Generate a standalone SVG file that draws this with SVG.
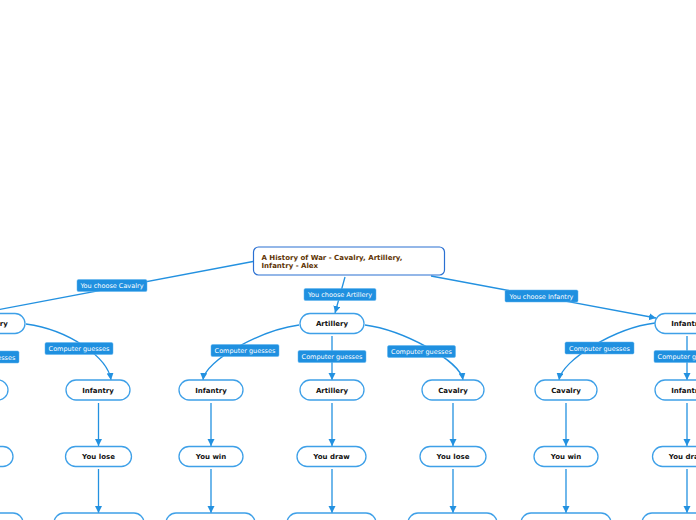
<svg xmlns="http://www.w3.org/2000/svg" width="696" height="520" viewBox="0 0 696 520">
<defs>
<marker id="ah" markerUnits="userSpaceOnUse" markerWidth="8" markerHeight="8" refX="7" refY="3.5" orient="auto">
<path d="M0,0 L7,3.5 L0,7 z" fill="#2391e0"/>
</marker>
<style>
.n rect{fill:#fff;stroke:#3ea0e8;stroke-width:1.3}
.n text{font-family:"DejaVu Sans",Verdana,sans-serif;font-size:7px;font-weight:bold;fill:#111;text-anchor:middle}
.root rect{fill:#fff;stroke:#2a70d2;stroke-width:1.2}
.root text{font-family:"DejaVu Sans",Verdana,sans-serif;font-size:7px;font-weight:bold;fill:#5e3404}
.c path,.c line{fill:none;stroke:#2391e0;stroke-width:1.3;marker-end:url(#ah)}
.l rect{fill:#1f90e0;stroke:#5cb2ee;stroke-width:0.5}
.l text{font-family:"DejaVu Sans",Verdana,sans-serif;font-size:6.5px;fill:#fff;text-anchor:middle}
</style>
</defs>
<rect width="696" height="520" fill="#fff"/>
<g id="connectors" class="c">
<line x1="253" y1="261.5" x2="-14" y2="312"/>
<line x1="345" y1="277" x2="335" y2="313"/>
<line x1="431" y1="276" x2="656" y2="318"/>
<path d="M26,324 C70,330 108,358 111,380"/>
<line x1="-15" y1="336" x2="-15" y2="380"/>
<path d="M299,325 C262,330 205,360 203,380"/>
<line x1="332" y1="336" x2="332" y2="380"/>
<path d="M365,325 C402,330 460,360 463,380"/>
<path d="M655,323 C615,328 562,360 559,380"/>
<line x1="687" y1="336" x2="687" y2="380"/>
<line x1="98.5" y1="403" x2="98.5" y2="446"/>
<line x1="211" y1="403" x2="211" y2="446"/>
<line x1="332" y1="403" x2="332" y2="446"/>
<line x1="453" y1="403" x2="453" y2="446"/>
<line x1="566" y1="403" x2="566" y2="446"/>
<line x1="687" y1="403" x2="687" y2="446"/>
<line x1="98.5" y1="469" x2="98.5" y2="513"/>
<line x1="211" y1="469" x2="211" y2="513"/>
<line x1="332" y1="469" x2="332" y2="513"/>
<line x1="453" y1="469" x2="453" y2="513"/>
<line x1="566" y1="469" x2="566" y2="513"/>
<line x1="687" y1="469" x2="687" y2="513"/>
</g>
<g id="labels" class="l">
<g id="lbl-cav"><rect x="77" y="279.5" width="70" height="12" rx="1.5"/><text x="112" y="288">You choose Cavalry</text></g>
<g id="lbl-art"><rect x="304" y="288.5" width="72" height="12" rx="1.5"/><text x="340" y="297">You choose Artillery</text></g>
<g id="lbl-inf"><rect x="505" y="290" width="73" height="12" rx="1.5"/><text x="541.5" y="298.5">You choose Infantry</text></g>
<g id="lbl-c1"><rect x="45" y="342.5" width="68" height="12" rx="1.5"/><text x="79" y="351">Computer guesses</text></g>
<g id="lbl-c0"><rect x="-49" y="351" width="68" height="12" rx="1.5"/><text x="-15" y="359.5">Computer guesses</text></g>
<g id="lbl-a1"><rect x="211" y="344.5" width="68" height="12" rx="1.5"/><text x="245" y="353">Computer guesses</text></g>
<g id="lbl-a2"><rect x="298" y="350.5" width="68" height="12" rx="1.5"/><text x="332" y="359">Computer guesses</text></g>
<g id="lbl-a3"><rect x="387.5" y="345.5" width="68" height="12" rx="1.5"/><text x="421.5" y="354">Computer guesses</text></g>
<g id="lbl-i1"><rect x="565" y="342" width="69" height="12" rx="1.5"/><text x="599.5" y="350.5">Computer guesses</text></g>
<g id="lbl-i2"><rect x="654" y="350.5" width="68" height="12" rx="1.5"/><text x="688" y="359">Computer guesses</text></g>
</g>
<g id="root" class="root"><rect x="253.5" y="247" width="191" height="28" rx="5"/><text x="261.5" y="259.5">A History of War - Cavalry, Artillery,</text><text x="261.5" y="268">Infantry - Alex</text></g>
<g id="n-cav" class="n"><rect x="-39" y="313.5" width="64" height="20" rx="10"/><text x="-7" y="326">Cavalry</text></g>
<g id="n-art" class="n"><rect x="300" y="313.5" width="64" height="20" rx="10"/><text x="332" y="326">Artillery</text></g>
<g id="n-inf" class="n"><rect x="655" y="313.5" width="64" height="20" rx="10"/><text x="687" y="326">Infantry</text></g>
<g id="n-c2" class="n"><rect x="-56" y="380" width="64" height="20" rx="10"/></g>
<g id="n-ci" class="n"><rect x="66" y="380" width="64" height="20" rx="10"/><text x="98" y="392.5">Infantry</text></g>
<g id="n-ai" class="n"><rect x="179" y="380" width="64" height="20" rx="10"/><text x="211" y="392.5">Infantry</text></g>
<g id="n-aa" class="n"><rect x="300" y="380" width="64" height="20" rx="10"/><text x="332" y="392.5">Artillery</text></g>
<g id="n-ac" class="n"><rect x="422" y="380" width="62" height="20" rx="10"/><text x="453" y="392.5">Cavalry</text></g>
<g id="n-ic" class="n"><rect x="535" y="380" width="62" height="20" rx="10"/><text x="566" y="392.5">Cavalry</text></g>
<g id="n-ii" class="n"><rect x="655" y="380" width="64" height="20" rx="10"/><text x="687" y="392.5">Infantry</text></g>
<g id="r-c2" class="n"><rect x="-52" y="446.5" width="65" height="20" rx="10"/></g>
<g id="r-ci" class="n"><rect x="65.5" y="446.5" width="66" height="20" rx="10"/><text x="98.5" y="459">You lose</text></g>
<g id="r-ai" class="n"><rect x="179" y="446.5" width="64" height="20" rx="10"/><text x="211" y="459">You win</text></g>
<g id="r-aa" class="n"><rect x="297" y="446.5" width="69" height="20" rx="10"/><text x="331.5" y="459">You draw</text></g>
<g id="r-ac" class="n"><rect x="420" y="446.5" width="66" height="20" rx="10"/><text x="453" y="459">You lose</text></g>
<g id="r-ic" class="n"><rect x="534" y="446.5" width="64" height="20" rx="10"/><text x="566" y="459">You win</text></g>
<g id="r-ii" class="n"><rect x="652.5" y="446.5" width="69" height="20" rx="10"/><text x="687" y="459">You draw</text></g>
<g id="b-c2" class="n"><rect x="-67" y="513" width="90" height="30" rx="10"/></g>
<g id="b-ci" class="n"><rect x="54" y="513" width="90" height="30" rx="10"/></g>
<g id="b-ai" class="n"><rect x="166" y="513" width="89" height="30" rx="10"/></g>
<g id="b-aa" class="n"><rect x="287" y="513" width="89" height="30" rx="10"/></g>
<g id="b-ac" class="n"><rect x="408" y="513" width="89" height="30" rx="10"/></g>
<g id="b-ic" class="n"><rect x="521" y="513" width="90" height="30" rx="10"/></g>
<g id="b-ii" class="n"><rect x="642" y="513" width="90" height="30" rx="10"/></g>
</svg>
